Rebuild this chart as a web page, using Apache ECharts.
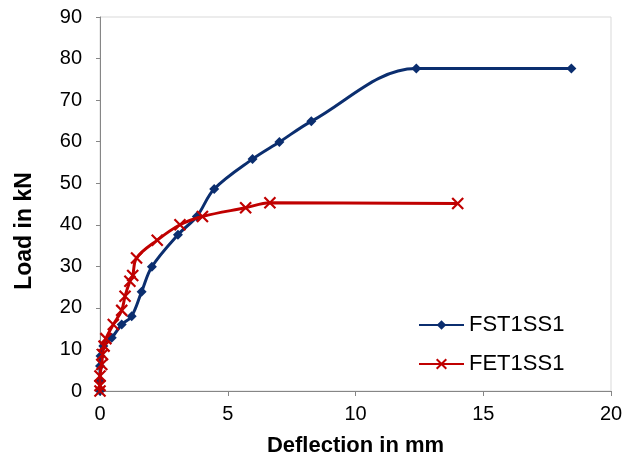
<!DOCTYPE html>
<html><head><meta charset="utf-8">
<script src="https://cdn.jsdelivr.net/npm/echarts@6/dist/echarts.min.js"></script>
<style>html,body{margin:0;padding:0;background:#fff}#c{width:638px;height:463px}</style>
</head><body><div id="c"></div>
<script>
var seriesNames = ['FST1SS1', 'FET1SS1'];
var fstX = [0, 0, 0, 0.02, 0.13, 0.46, 0.85, 1.24, 1.63, 2.03, 3.05, 3.79, 4.47, 5.97, 7.02, 8.27, 12.38, 18.45];
var fstY = [0, 2.4, 6.0, 8.4, 10.8, 12.8, 16.0, 18.0, 23.9, 29.9, 37.6, 42.0, 48.6, 55.8, 59.9, 64.9, 77.6, 77.6];
var fetX = [0, 0, 0, 0.07, 0.1, 0.16, 0.23, 0.52, 0.85, 0.98, 1.17, 1.28, 1.43, 2.24, 3.13, 4.01, 5.7, 6.65, 14.0];
var fetY = [0, 1.3, 3.6, 6.4, 8.8, 10.8, 12.6, 16.0, 19.4, 22.8, 26.4, 27.8, 32.0, 36.3, 40.0, 42.0, 44.1, 45.3, 45.1];
var xTicks = [0, 5, 10, 15, 20];
var yTicks = [0, 10, 20, 30, 40, 50, 60, 70, 80, 90];

function pairs(xs, ys) { return xs.map(function (x, i) { return [x, ys[i]]; }); }
var FONT = '"Liberation Sans", Arial, sans-serif';
var chart = echarts.init(document.getElementById('c'), null, { renderer: 'canvas' });
chart.setOption({
  animation: false,
  backgroundColor: '#fff',
  textStyle: { fontFamily: FONT },
  grid: { left: 100, right: 27, top: 17, bottom: 72, show: true, borderColor: '#d9d9d9', borderWidth: 1, backgroundColor: 'transparent' },
  legend: {
    orient: 'vertical', left: 413, top: 308, itemWidth: 45, itemHeight: 12, itemGap: 15,
    textStyle: { fontSize: 22, color: '#000', fontFamily: FONT, lineHeight: 24 },
    data: seriesNames
  },
  xAxis: {
    type: 'value', min: xTicks[0], max: xTicks[xTicks.length - 1], interval: 5,
    name: 'Deflection in mm', nameLocation: 'middle', nameGap: 44,
    nameTextStyle: { fontSize: 22, fontWeight: 'bold', color: '#000', fontFamily: FONT },
    axisLine: { lineStyle: { color: '#868686', width: 1 } },
    axisTick: { show: true, inside: false, length: 5, lineStyle: { color: '#868686' } },
    axisLabel: { fontSize: 20, color: '#000', margin: 13, fontFamily: FONT },
    splitLine: { show: false }
  },
  yAxis: {
    type: 'value', min: yTicks[0], max: yTicks[yTicks.length - 1], interval: 10,
    name: 'Load in kN', nameLocation: 'middle', nameGap: 64, nameRotate: 90,
    nameTextStyle: { fontSize: 23, fontWeight: 'bold', color: '#000', fontFamily: FONT, padding: [0, 54, 0, 0] },
    axisLine: { show: true, lineStyle: { color: '#868686', width: 1 } },
    axisTick: { show: true, inside: false, length: 4, lineStyle: { color: '#868686' } },
    axisLabel: { fontSize: 20, color: '#000', margin: 18, fontFamily: FONT },
    splitLine: { show: false }
  },
  series: [
    {
      name: seriesNames[0], type: 'line', smooth: 0.35, data: pairs(fstX, fstY),
      symbol: 'diamond', symbolSize: 10,
      lineStyle: { color: '#0b2e6f', width: 3 },
      itemStyle: { color: '#0b2e6f' }, z: 2
    },
    {
      name: seriesNames[1], type: 'line', smooth: 0.35, data: pairs(fetX, fetY),
      symbol: 'path://M0,0L10,10M10,0L0,10', symbolSize: 11,
      lineStyle: { color: '#c00000', width: 3 },
      itemStyle: { color: 'none', borderColor: '#c00000', borderWidth: 2.2 }, z: 3
    }
  ]
});
</script></body></html>
